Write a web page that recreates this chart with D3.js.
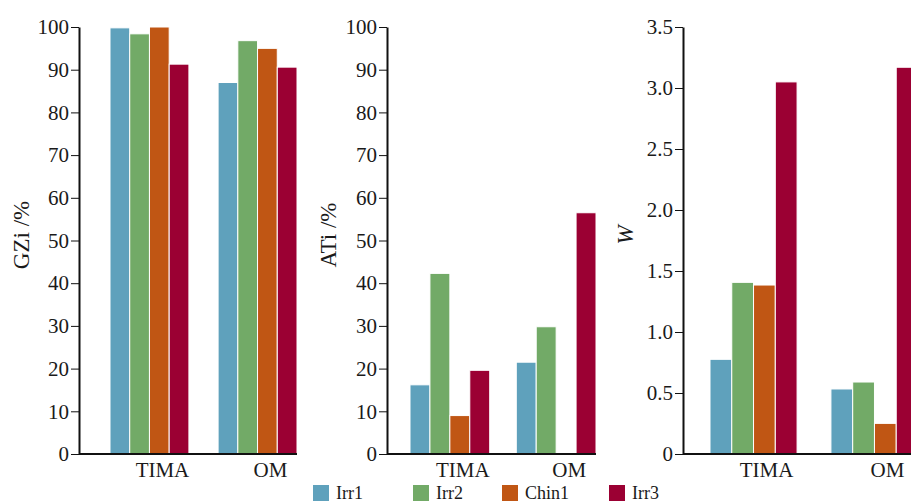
<!DOCTYPE html>
<html>
<head>
<meta charset="utf-8">
<script src="https://cdn.jsdelivr.net/npm/d3@7"></script>
<style>
  body { margin: 0; background: #fff; overflow: hidden; }
  text { font-family: "Liberation Serif", "Times New Roman", serif; fill: #1a1a1a; }
</style>
</head>
<body>
<script>
// Catégories et séries
const groups = ["TIMA", "OM"];
const seriesNames = ["Irr1", "Irr2", "Chin1", "Irr3"];
const seriesColors = ["#5fa1bc", "#72aa67", "#c05614", "#9b0033"];

// Valeurs (une ligne par groupe, ordre des séries)
const gziValues = [
    [99.8, 98.4, 100.0, 91.3],
    [87.0, 96.8, 95.0, 90.6]
];
const atiValues = [
    [16.2, 42.3, 9.0, 19.6],
    [21.5, 29.8, 0, 56.5]
];
const wValues = [
    [0.776, 1.407, 1.385, 3.05],
    [0.533, 0.590, 0.251, 3.17]
];

const gziTicks = [0, 10, 20, 30, 40, 50, 60, 70, 80, 90, 100];
const wTicks = [0, 0.5, 1.0, 1.5, 2.0, 2.5, 3.0, 3.5];

const width = 911;
const height = 504;
const yTop = 27;
const yBottom = 454;

const svg = d3.select("body").append("svg")
    .attr("width", width)
    .attr("height", height);

// Mise en page de chaque panneau
const panels = [
    { title: "GZi /%", italic: false, values: gziValues, max: 100, ticks: gziTicks,
      fmt: d => d3.format("d")(d), axisX: 79, start: 110, end: 297, pad: 0.27, titleX: 21 },
    { title: "ATi /%", italic: false, values: atiValues, max: 100, ticks: gziTicks,
      fmt: d => d3.format("d")(d), axisX: 387, start: 410, end: 596, pad: 0.25, titleX: 328 },
    { title: "W", italic: true, values: wValues, max: 3.5, ticks: wTicks,
      fmt: d => d === 0 ? "0" : d3.format(".1f")(d), axisX: 683, start: 710, end: 918, pad: 0.28, titleX: 625 }
];

panels.forEach(drawPanel);
drawLegend();

function drawPanel(p) {
    const g = svg.append("g");

    const x0 = d3.scaleBand()
        .domain(groups)
        .range([p.start, p.end])
        .paddingInner(p.pad);

    const x1 = d3.scaleBand()
        .domain(seriesNames)
        .range([0, x0.bandwidth()]);

    const y = d3.scaleLinear()
        .domain([0, p.max])
        .range([yBottom, yTop]);

    // Barres
    groups.forEach((grp, gi) => {
        g.selectAll(null)
            .data(p.values[gi].map((v, si) => ({ v, si })).filter(d => d.v > 0))
            .enter()
            .append("rect")
            .attr("x", d => x0(grp) + x1(seriesNames[d.si]))
            .attr("y", d => y(d.v))
            .attr("width", x1.bandwidth())
            .attr("height", d => y(0) - y(d.v))
            .style("fill", d => seriesColors[d.si])
            .style("stroke", "#fff")
            .style("stroke-width", 1);
    });

    // Axe Y
    const yAxis = g.append("g")
        .attr("transform", `translate(${p.axisX},0)`)
        .call(d3.axisLeft(y).tickValues(p.ticks).tickFormat(p.fmt).tickSize(8).tickSizeOuter(0).tickPadding(2));
    yAxis.select(".domain").attr("stroke", "#111").attr("stroke-width", 2);
    yAxis.selectAll(".tick line").attr("stroke", "#111").attr("stroke-width", 1);
    yAxis.selectAll(".tick text")
        .style("font-family", "'Liberation Serif', 'Times New Roman', serif")
        .style("font-size", "21px")
        .attr("fill", "#1a1a1a");

    // Axe X
    g.append("line")
        .attr("x1", p.axisX)
        .attr("x2", p.end)
        .attr("y1", yBottom)
        .attr("y2", yBottom)
        .attr("stroke", "#111")
        .attr("stroke-width", 2);

    const xAxis = g.append("g")
        .attr("transform", `translate(0,${yBottom})`)
        .call(d3.axisBottom(x0).tickSize(0).tickPadding(6));
    xAxis.select(".domain").remove();
    xAxis.selectAll(".tick text")
        .attr("dx", 13)
        .attr("dy", "0.8em")
        .style("font-family", "'Liberation Serif', 'Times New Roman', serif")
        .style("font-size", "21px")
        .attr("fill", "#1a1a1a");

    // Titre de l'axe Y
    g.append("text")
        .attr("transform", `translate(${p.titleX},${235}) rotate(-90)`)
        .attr("text-anchor", "middle")
        .attr("dy", "0.35em")
        .style("font-size", "23px")
        .style("font-style", p.italic ? "italic" : "normal")
        .text(p.title);
}

function drawLegend() {
    const legendX = [313, 413, 502, 609];
    const legend = svg.append("g");

    const items = legend.selectAll(".legend-item")
        .data(seriesNames)
        .enter()
        .append("g")
        .attr("class", "legend-item")
        .attr("transform", (d, i) => `translate(${legendX[i]},485)`);

    items.append("rect")
        .attr("width", 16)
        .attr("height", 16)
        .style("fill", (d, i) => seriesColors[i]);

    items.append("text")
        .attr("x", 23)
        .attr("y", 14)
        .style("font-size", "18px")
        .text(d => d);
}
</script>
</body>
</html>
